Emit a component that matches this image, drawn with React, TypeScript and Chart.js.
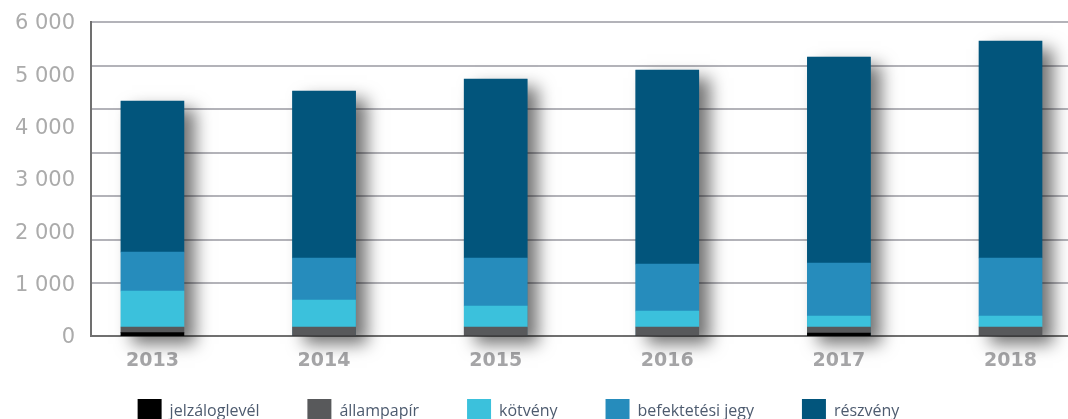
import React, { useEffect, useRef } from 'react';
import { Chart, registerables } from 'chart.js';

Chart.register(...registerables);

// Categories
const years = ['2013', '2014', '2015', '2016', '2017', '2018'];

// Series values (stacked, bottom to top)
const jelzaloglevel = [63, 0, 0, 0, 57, 0];
const allampapir = [109, 172, 172, 172, 115, 172];
const kotveny = [688, 516, 401, 306, 210, 210];
const befektetesiJegy = [745, 803, 917, 898, 1013, 1108];
const reszveny = [2885, 3191, 3421, 3707, 3937, 4147];

// Tick labels
const yTickValues = [0, 1000, 2000, 3000, 4000, 5000, 6000];
const yTickLabels = ['0', '1 000', '2 000', '3 000', '4 000', '5 000', '6 000'];
const gridSteps = [0, 1, 2, 3, 4, 5, 6];

const barShadow = {
  id: 'barShadow',
  beforeDatasetsDraw(chart: any) {
    const ctx = chart.ctx;
    const metas = chart.getSortedVisibleDatasetMetas();
    ctx.save();
    ctx.shadowColor = 'rgba(0,0,0,0.55)';
    ctx.shadowBlur = 16;
    ctx.shadowOffsetX = 11;
    ctx.shadowOffsetY = 8;
    ctx.fillStyle = '#02557c';
    for (let i = 0; i < years.length; i++) {
      let top = Infinity;
      let base = -Infinity;
      let x = 0;
      let w = 0;
      metas.forEach((m: any) => {
        const el = m.data[i];
        if (!el) return;
        const p = el.getProps(['x', 'y', 'base', 'width'], true);
        top = Math.min(top, p.y, p.base);
        base = Math.max(base, p.y, p.base);
        x = p.x;
        w = p.width;
      });
      if (isFinite(top)) ctx.fillRect(x - w / 2, top, w, base - top);
    }
    ctx.restore();
  },
};

const toPoints = (arr: number[]) => arr.map((v, i) => ({ x: i, y: v }));

export default function App() {
  const ref = useRef<HTMLCanvasElement>(null);

  useEffect(() => {
    document.body.style.margin = '0';
    const canvas = ref.current!;
    const common = { borderWidth: 0, barThickness: 63 };
    const chart = new Chart(canvas, {
      type: 'bar',
      data: {
        datasets: [
          { label: 'jelzáloglevél', data: toPoints(jelzaloglevel), backgroundColor: '#000000', ...common },
          { label: 'állampapír', data: toPoints(allampapir), backgroundColor: '#58595b', ...common },
          { label: 'kötvény', data: toPoints(kotveny), backgroundColor: '#3bc1dc', ...common },
          { label: 'befektetési jegy', data: toPoints(befektetesiJegy), backgroundColor: '#268cbc', ...common },
          { label: 'részvény', data: toPoints(reszveny), backgroundColor: '#02557c', ...common },
        ] as any,
      },
      options: {
        animation: false,
        responsive: false,
        devicePixelRatio: 1,
        events: [],
        layout: { padding: { top: 22, left: 0, right: 0, bottom: 0 } },
        plugins: {
          tooltip: { enabled: false },
          legend: {
            position: 'bottom',
            labels: {
              boxWidth: 24,
              boxHeight: 24,
              padding: 23,
              color: '#4d5b6f',
              font: { family: '"Open Sans", sans-serif', size: 16 },
              generateLabels: (chart: any) => {
                const items = Chart.defaults.plugins.legend.labels.generateLabels(chart);
                const n = items.length;
                return items.map((it: any, i: number) => ({
                  ...it,
                  lineWidth: 0,
                  text: i < n - 1 ? it.text + '\u00a0\u00a0\u00a0\u00a0\u00a0\u00a0' : it.text,
                }));
              },
            },
          },
        },
        scales: {
          x: {
            type: 'linear',
            stacked: true,
            offset: false,
            min: -0.358,
            max: 5.335,
            afterBuildTicks: (scale: any) => {
              scale.ticks = years.map((_, i) => ({ value: i }));
            },
            afterFit: (scale: any) => {
              scale.height = 40;
              scale.paddingLeft = 0;
              scale.paddingRight = 0;
            },
            grid: { display: false, drawTicks: false },
            border: { display: true, color: '#707070', width: 2 },
            ticks: {
              padding: 14,
              color: '#a6a6a8',
              font: { family: '"DejaVu Sans", sans-serif', size: 19, weight: 'bold' },
              callback: (v: any) => years[Math.round(Number(v))] ?? '',
              maxRotation: 0,
              autoSkip: false,
            },
          },
          y: {
            type: 'linear',
            position: 'left',
            stacked: true,
            min: 0,
            max: 6000,
            afterBuildTicks: (scale: any) => {
              scale.ticks = yTickValues.map((v) => ({ value: v }));
            },
            afterFit: (scale: any) => {
              scale.width = 122;
              scale.paddingTop = 0;
              scale.paddingBottom = 0;
            },
            grid: { display: false, drawTicks: false },
            border: { display: true, color: '#707070', width: 2 },
            ticks: {
              padding: 16,
              labelOffset: 2,
              color: '#ababab',
              font: { family: '"DejaVu Sans", sans-serif', size: 21 },
              callback: (v: any) => {
                const i = yTickValues.indexOf(Number(v));
                return i >= 0 ? yTickLabels[i] : '';
              },
            },
          },
          y2: {
            type: 'linear',
            position: 'right',
            min: -1.205,
            max: 6,
            afterBuildTicks: (scale: any) => {
              scale.ticks = gridSteps.map((v) => ({ value: v }));
            },
            afterFit: (scale: any) => {
              scale.width = 0;
              scale.paddingTop = 0;
              scale.paddingBottom = 0;
            },
            grid: { display: true, drawTicks: false, color: '#b3b3b9', lineWidth: 2 },
            border: { display: false },
            ticks: { display: false },
          },
        },
      } as any,
      plugins: [barShadow],
    });
    return () => chart.destroy();
  }, []);

  return (
    <div
      style={{
        position: 'fixed',
        left: 0,
        top: 0,
        width: 1068,
        height: 419,
        overflow: 'hidden',
        background: '#ffffff',
      }}
    >
      <canvas
        ref={ref}
        width={1099}
        height={433}
        style={{ position: 'absolute', left: -31, top: 0, width: 1099, height: 433 }}
      />
    </div>
  );
}
